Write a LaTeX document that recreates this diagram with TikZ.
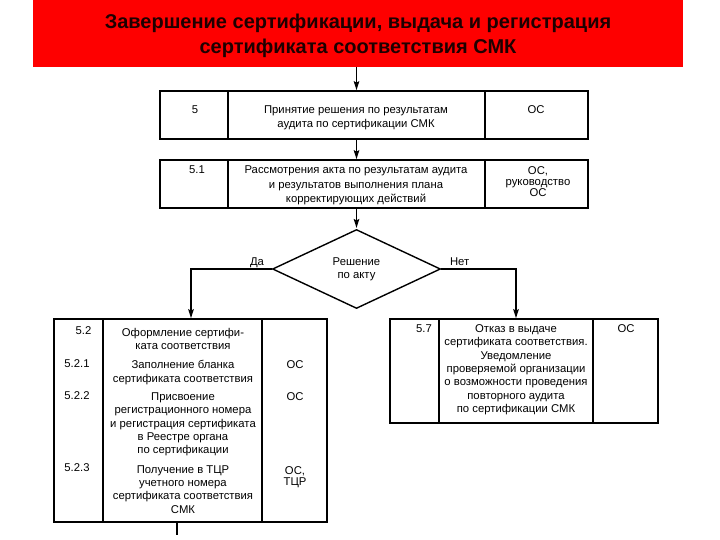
\documentclass[tikz,border=0pt]{standalone}
\usepackage{fontspec}
\setmainfont{Liberation Sans}
\usetikzlibrary{positioning,shapes.geometric,arrows.meta}

\definecolor{headred}{RGB}{254,0,0}
\definecolor{headink}{RGB}{30,0,0}

\begin{document}
\begin{tikzpicture}[x=1pt,y=-1pt,->,>={Stealth[length=9pt,width=5.5pt,inset=1.5pt]},shorten >=0.8pt,thick,
    cell/.style={draw,line width=1.6pt,inner sep=0pt,outer sep=0pt,anchor=north west,minimum height=48pt},
    txt/.style={anchor=north,align=center,inner sep=0pt,font=\fontsize{11.3}{13.3}\selectfont},
    wide/.style={txt,font=\fontsize{11.3}{14.3}\selectfont},
    flow/.style={line width=1.6pt}]
    \useasboundingbox (0,0) rectangle (720,540);

    \node[fill=headred,minimum width=650pt,minimum height=67pt,inner sep=0pt] (title) at (358,33.5) {};
    \node[align=center,inner sep=0pt,text=headink,font=\bfseries\fontsize{20}{24.5}\selectfont] (titletext) at (358,36)
          {Завершение сертификации, выдача и регистрация\\сертификата соответствия СМК};

    % step 5
    \node[cell,minimum width=68pt] (n5) at (160,91) {};
    \node[cell,minimum width=257pt,right=0pt of n5] (t5) {};
    \node[cell,minimum width=103pt,right=0pt of t5] (r5) {};
    \node[txt] (l5) at (195,105.3) {5};
    \node[wide] (m5) at (356,105.3) {Принятие решения по результатам\\аудита по сертификации СМК};
    \node[txt] (o5) at (536,105.3) {ОС};

    % step 5.1
    \node[cell,minimum width=68pt] (n51) at (160,160) {};
    \node[cell,minimum width=257pt,right=0pt of n51] (t51) {};
    \node[cell,minimum width=103pt,right=0pt of t51] (r51) {};
    \node[txt] (l51) at (197,165.7) {5.1};
    \node[wide] (m51) at (356,165.7) {Рассмотрения акта по результатам аудита\\и результатов выполнения плана\\корректирующих действий};
    \node[txt,font=\fontsize{11.3}{11.3}\selectfont] (o51) at (538,166) {ОС,\\руководство\\ОС};

    \node[draw,diamond,line width=1.4pt,minimum width=168pt,minimum height=79pt,inner sep=0pt,
          align=center,font=\fontsize{11.3}{13.3}\selectfont] (d) at (356.5,269) {Решение\\по акту};

    % step 5.2
    \node[cell,minimum width=49pt,minimum height=203pt] (n52) at (54,319) {};
    \node[cell,minimum width=159pt,minimum height=203pt,right=0pt of n52] (t52) {};
    \node[cell,minimum width=65pt,minimum height=203pt,right=0pt of t52] (r52) {};
    \node[txt] (l52) at (83.5,326) {5.2};
    \node[txt,font=\fontsize{11.3}{12.8}\selectfont] (m52) at (183,328) {Оформление сертифи-\\ката соответствия};
    \node[txt] (l521) at (77,359.3) {5.2.1};
    \node[wide] (m521) at (183,360) {Заполнение бланка\\сертификата соответствия};
    \node[txt] (o521) at (295,360) {ОС};
    \node[txt] (l522) at (77,391.7) {5.2.2};
    \node[txt] (m522) at (183,392.3) {Присвоение\\регистрационного номера\\и регистрация сертификата\\в Реестре органа\\по сертификации};
    \node[txt] (o522) at (295,392.3) {ОС};
    \node[txt] (l523) at (77,463.3) {5.2.3};
    \node[txt] (m523) at (183,465) {Получение в ТЦР\\учетного номера\\сертификата соответствия\\СМК};
    \node[txt,font=\fontsize{11.3}{11.7}\selectfont] (o523) at (295,466) {ОС,\\ТЦР};

    % step 5.7
    \node[cell,minimum width=49pt,minimum height=104pt] (n57) at (390,319) {};
    \node[cell,minimum width=154pt,minimum height=104pt,right=0pt of n57] (t57) {};
    \node[cell,minimum width=65pt,minimum height=104pt,right=0pt of t57] (r57) {};
    \node[txt] (l57) at (424,324.3) {5.7};
    \node[txt] (m57) at (516,324.3) {Отказ в выдаче\\сертификата соответствия.\\Уведомление\\проверяемой организации\\о возможности проведения\\повторного аудита\\по сертификации СМК};
    \node[txt] (o57) at (626,324.3) {ОС};

    \draw[flow] (title.south -| t5.north) -- (t5.north);
    \draw[flow] (t5.south) -- (t51.north);
    \draw[flow] (t51.south) -- (d.north);
    \draw[flow] (d.west) node[txt,anchor=base east,xshift=-7pt,yshift=4pt] (yes) {Да}
        -| ([xshift=8.5pt]t52.north);
    \draw[flow] (d.east) node[txt,anchor=base west,xshift=8pt,yshift=4pt] (no) {Нет}
        -| (t57.north);
    \draw[flow,-] ([xshift=-5.8pt]t52.south) -- ++(0,14);
\end{tikzpicture}
\end{document}
